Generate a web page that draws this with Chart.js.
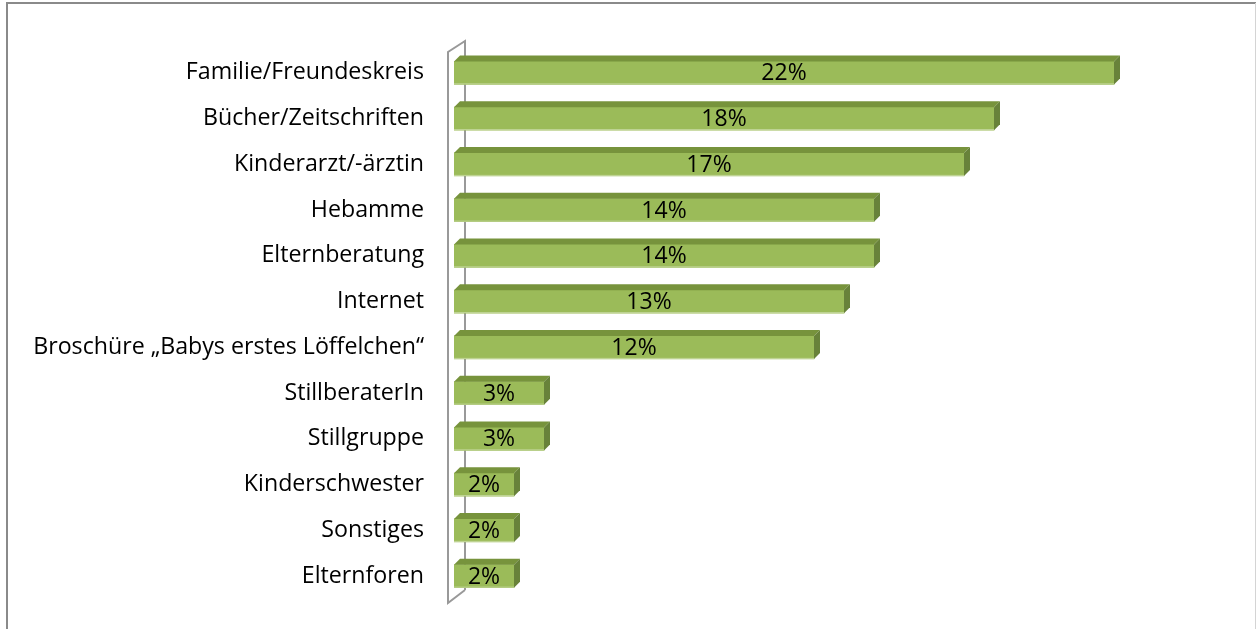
<!DOCTYPE html>
<html>
<head>
<meta charset="utf-8">
<script src="https://cdn.jsdelivr.net/npm/chart.js@4"></script>
<style>
  html, body { margin: 0; padding: 0; background: #fff; }
  #wrap { position: relative; width: 1256px; height: 629px; }
</style>
</head>
<body>
<div id="wrap"><canvas id="sourcesChart"></canvas></div>
<script>
// Informationsquellen, Anteil in Prozent
const categories = [
  'Familie/Freundeskreis',
  'Bücher/Zeitschriften',
  'Kinderarzt/-ärztin',
  'Hebamme',
  'Elternberatung',
  'Internet',
  'Broschüre „Babys erstes Löffelchen“',
  'StillberaterIn',
  'Stillgruppe',
  'Kinderschwester',
  'Sonstiges',
  'Elternforen'
];
const shares = [22, 18, 17, 14, 14, 13, 12, 3, 3, 2, 2, 2];

const FONT = '"Open Sans", Lato, sans-serif';
const DEPTH = 6;

// frame around the whole picture
const framePlugin = {
  id: 'frame',
  beforeDraw: (chart) => {
    const {ctx} = chart;
    ctx.save();
    ctx.fillStyle = '#fff';
    ctx.fillRect(0, 0, chart.width, chart.height);
    ctx.strokeStyle = '#8a8a8a';
    ctx.lineWidth = 2;
    ctx.beginPath();
    ctx.moveTo(7, chart.height);
    ctx.lineTo(7, 3);
    ctx.lineTo(chart.width, 3);
    ctx.stroke();
    ctx.strokeStyle = '#d4d4d4';
    ctx.lineWidth = 1;
    ctx.beginPath();
    ctx.moveTo(chart.width - 0.5, 3);
    ctx.lineTo(chart.width - 0.5, chart.height);
    ctx.stroke();
    ctx.restore();
  }
};

// thin 3d wall behind the category axis
const wallPlugin = {
  id: 'wall',
  beforeDatasetsDraw: (chart) => {
    const {ctx, chartArea} = chart;
    const front = chartArea.left - 6;
    const back = chartArea.left + 11;
    ctx.save();
    ctx.strokeStyle = '#999';
    ctx.lineWidth = 2;
    ctx.beginPath();
    ctx.moveTo(back, chartArea.bottom - 9);
    ctx.lineTo(back, chartArea.top - 9);
    ctx.lineTo(front, chartArea.top + 2);
    ctx.lineTo(front, chartArea.bottom + 4);
    ctx.lineTo(back, chartArea.bottom - 9);
    ctx.stroke();
    ctx.restore();
  }
};

// top and side faces of each bar plus the value label
const barFacesPlugin = {
  id: 'barFaces',
  afterDatasetsDraw: (chart) => {
    const {ctx} = chart;
    const meta = chart.getDatasetMeta(0);
    ctx.save();
    meta.data.forEach((bar, i) => {
      const top = bar.y - bar.height / 2;
      const bottom = bar.y + bar.height / 2;

      ctx.fillStyle = '#77933c';
      ctx.beginPath();
      ctx.moveTo(bar.base, top);
      ctx.lineTo(bar.base + DEPTH, top - DEPTH);
      ctx.lineTo(bar.x + DEPTH, top - DEPTH);
      ctx.lineTo(bar.x, top);
      ctx.closePath();
      ctx.fill();

      ctx.fillStyle = '#68823a';
      ctx.beginPath();
      ctx.moveTo(bar.x, top);
      ctx.lineTo(bar.x + DEPTH, top - DEPTH);
      ctx.lineTo(bar.x + DEPTH, bottom - DEPTH);
      ctx.lineTo(bar.x, bottom);
      ctx.closePath();
      ctx.fill();

      // light lower edge of the front face
      ctx.fillStyle = '#c3d69b';
      ctx.fillRect(bar.base, bottom - 1, bar.x - bar.base, 1);

      ctx.fillStyle = '#000';
      ctx.font = '23px ' + FONT;
      ctx.textAlign = 'center';
      ctx.textBaseline = 'middle';
      ctx.fillText(shares[i] + '%', (bar.base + bar.x) / 2, bar.y + 1);
    });
    ctx.restore();
  }
};

const ctx = document.getElementById('sourcesChart');
new Chart(ctx, {
  type: 'bar',
  data: {
    labels: categories,
    datasets: [{
      data: shares,
      backgroundColor: '#9bbb59',
      borderWidth: 0,
      barThickness: 23
    }]
  },
  options: {
    indexAxis: 'y',
    responsive: true,
    maintainAspectRatio: false,
    animation: false,
    layout: {
      padding: { top: 50, bottom: 30, left: 0, right: 22 }
    },
    plugins: {
      legend: { display: false },
      tooltip: { enabled: false }
    },
    scales: {
      x: {
        display: false,
        min: 0,
        max: 26
      },
      y: {
        // tick marks hidden, their length only keeps the labels off the wall
        grid: { display: false, drawTicks: true, tickLength: 30 },
        border: { display: false },
        ticks: {
          color: '#000',
          padding: 0,
          font: { family: FONT, size: 23.2 }
        },
        afterFit: (scale) => {
          scale.width = 454;
        }
      }
    }
  },
  plugins: [framePlugin, wallPlugin, barFacesPlugin]
});
</script>
</body>
</html>
